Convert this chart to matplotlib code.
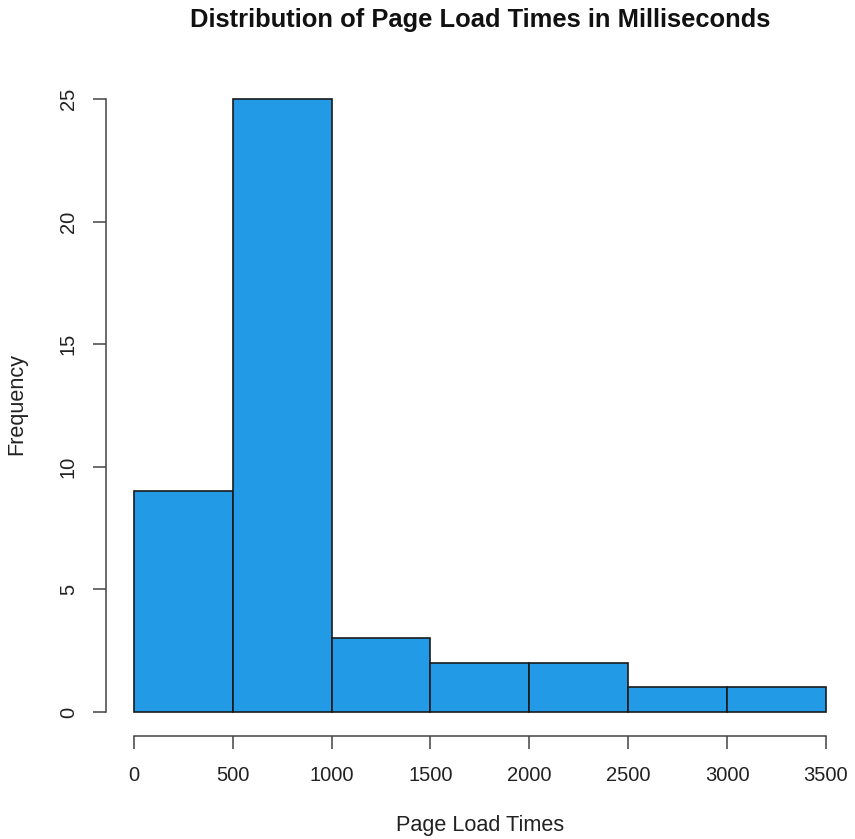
import matplotlib
matplotlib.use("Agg")
import matplotlib.pyplot as plt

plt.rcParams['font.family'] = ['Liberation Sans', 'DejaVu Sans']

# Histogram bins (ms) and counts
bin_edges = [0, 500, 1000, 1500, 2000, 2500, 3000, 3500]
counts = [9, 25, 3, 2, 2, 1, 1]
x_ticks = [0, 500, 1000, 1500, 2000, 2500, 3000, 3500]
y_ticks = [0, 5, 10, 15, 20, 25]

fig = plt.figure(figsize=(8.55, 8.39), dpi=100)
ax = fig.add_axes([0.1243, 0.1222, 0.874, 0.789])

widths = [b - a for a, b in zip(bin_edges[:-1], bin_edges[1:])]
ax.bar(bin_edges[:-1], counts, width=widths, align='edge',
       color='#229AE6', edgecolor='#1a1a1a', linewidth=1.2)

ax.set_xlim(-140, 3640)
ax.set_ylim(-1, 26)

for s in ('top', 'right'):
    ax.spines[s].set_visible(False)
for s in ('left', 'bottom'):
    ax.spines[s].set_color('#444444')
    ax.spines[s].set_linewidth(1.1)
ax.spines['left'].set_bounds(0, 25)
ax.spines['bottom'].set_bounds(0, 3500)

ax.set_xticks(x_ticks)
ax.set_yticks(y_ticks)
ax.set_xticklabels([str(v) for v in x_ticks])
ax.set_yticklabels([str(v) for v in y_ticks], rotation=90, va='center')
ax.tick_params(axis='both', length=9.5, width=1.1, color='#444444',
               labelsize=14.5, labelcolor='#222222')
ax.tick_params(axis='x', pad=12)
ax.tick_params(axis='y', pad=11)

fig.text(0.5614, 0.976, 'Distribution of Page Load Times in Milliseconds',
         ha='center', va='center', fontsize=18.4, fontweight='bold', color='#111111')
fig.text(0.5614, 0.016, 'Page Load Times', ha='center', va='center',
         fontsize=15.6, color='#222222')
fig.text(0.02, 0.518, 'Frequency', ha='center', va='center', rotation=90,
         fontsize=15.6, color='#222222')

fig.savefig('out.png', dpi=100, facecolor='white')
